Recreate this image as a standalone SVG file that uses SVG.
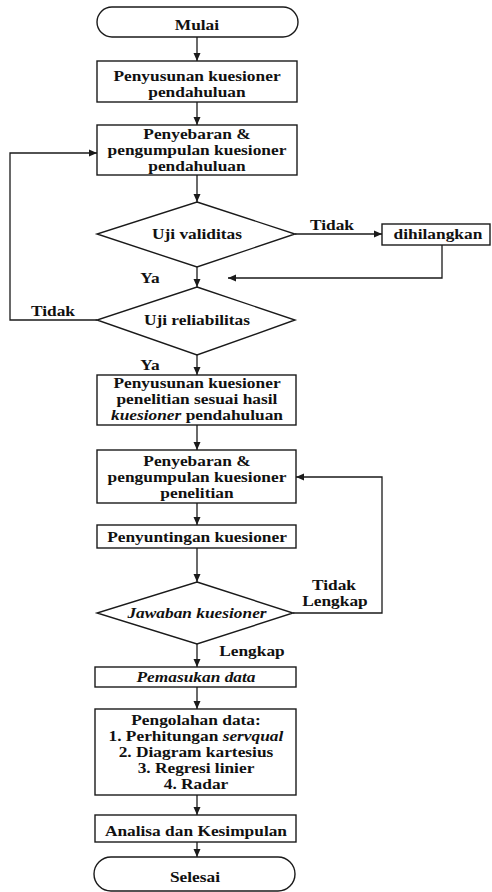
<svg xmlns="http://www.w3.org/2000/svg" width="492" height="892" viewBox="0 0 492 892">
<style>
.s{fill:#fff;stroke:#1a1a1a;stroke-width:1.4}
.c{fill:none;stroke:#1a1a1a;stroke-width:1.3}
text{font-family:"Liberation Serif","Times New Roman",serif;font-size:14px;font-weight:bold;fill:#111;text-anchor:middle;transform-box:fill-box;transform-origin:center;transform:scaleX(1.24)}
.i{font-style:italic}
</style>
<defs>
<marker id="a" markerUnits="userSpaceOnUse" markerWidth="8" markerHeight="8" refX="8" refY="4" orient="auto">
<path d="M0,0.5 L8,4 L0,7.5 z" fill="#1a1a1a"/>
</marker>
</defs>
<rect width="492" height="892" fill="#fff"/>
<g id="connectors">
<path class="c" d="M197,37 V61" marker-end="url(#a)"/>
<path class="c" d="M197,102 V125" marker-end="url(#a)"/>
<path class="c" d="M197,175 V202" marker-end="url(#a)"/>
<path class="c" d="M295,234 H382" marker-end="url(#a)"/>
<path class="c" d="M442,245 V278 H228" marker-end="url(#a)"/>
<path class="c" d="M197,267 V287" marker-end="url(#a)"/>
<path class="c" d="M97,320 H10 V153 H97" marker-end="url(#a)"/>
<path class="c" d="M197,355 V375" marker-end="url(#a)"/>
<path class="c" d="M197,425 V450" marker-end="url(#a)"/>
<path class="c" d="M197,503 V525" marker-end="url(#a)"/>
<path class="c" d="M197,548 V582" marker-end="url(#a)"/>
<path class="c" d="M293,613 H382 V477 H296" marker-end="url(#a)"/>
<path class="c" d="M197,644 V667" marker-end="url(#a)"/>
<path class="c" d="M197,687 V709" marker-end="url(#a)"/>
<path class="c" d="M197,795 V815" marker-end="url(#a)"/>
<path class="c" d="M197,842 V857" marker-end="url(#a)"/>
<text x="332" y="230">Tidak</text>
<text x="150" y="283">Ya</text>
<text x="53" y="316">Tidak</text>
<text x="150" y="370">Ya</text>
<text x="334" y="590">Tidak</text>
<text x="335" y="606">Lengkap</text>
<text x="252" y="656">Lengkap</text>
</g>
<g id="mulai">
<rect class="s" x="97" y="7" width="201" height="30" rx="15"/>
<text x="197" y="30">Mulai</text>
</g>
<g id="penyusunan1">
<rect class="s" x="97" y="61" width="200" height="41"/>
<text x="197" y="81">Penyusunan kuesioner</text>
<text x="197" y="97">pendahuluan</text>
</g>
<g id="penyebaran1">
<rect class="s" x="97" y="125" width="200" height="50"/>
<text x="197" y="139">Penyebaran &amp;</text>
<text x="197" y="155">pengumpulan kuesioner</text>
<text x="197" y="171">pendahuluan</text>
</g>
<g id="validitas">
<polygon class="s" points="197,202 295,234 197,267 97,234"/>
<text x="197" y="239">Uji validitas</text>
</g>
<g id="dihilangkan">
<rect class="s" x="382" y="224" width="108" height="21"/>
<text x="438" y="239">dihilangkan</text>
</g>
<g id="reliabilitas">
<polygon class="s" points="197,287 295,320 197,355 97,320"/>
<text x="197" y="325">Uji reliabilitas</text>
</g>
<g id="penyusunan2">
<rect class="s" x="97" y="375" width="199" height="50"/>
<text x="197" y="388">Penyusunan kuesioner</text>
<text x="197" y="404">penelitian sesuai hasil</text>
<text x="197" y="420"><tspan class="i">kuesioner</tspan> pendahuluan</text>
</g>
<g id="penyebaran2">
<rect class="s" x="97" y="450" width="199" height="53"/>
<text x="197" y="466">Penyebaran &amp;</text>
<text x="197" y="482">pengumpulan kuesioner</text>
<text x="197" y="498">penelitian</text>
</g>
<g id="penyuntingan">
<rect class="s" x="97" y="525" width="199" height="23"/>
<text x="197" y="542">Penyuntingan kuesioner</text>
</g>
<g id="jawaban">
<polygon class="s" points="197,582 293,613 197,644 97,613"/>
<text class="i" x="197" y="618">Jawaban kuesioner</text>
</g>
<g id="pemasukan">
<rect class="s" x="95" y="667" width="201" height="20"/>
<text class="i" x="196" y="682">Pemasukan data</text>
</g>
<g id="pengolahan">
<rect class="s" x="95" y="709" width="201" height="86"/>
<text x="196" y="725">Pengolahan data:</text>
<text x="196" y="741">1. Perhitungan <tspan class="i">servqual</tspan></text>
<text x="196" y="757">2. Diagram kartesius</text>
<text x="196" y="773">3. Regresi linier</text>
<text x="196" y="789">4. Radar</text>
</g>
<g id="analisa">
<rect class="s" x="95" y="815" width="201" height="27"/>
<text x="196" y="836">Analisa dan Kesimpulan</text>
</g>
<g id="selesai">
<rect class="s" x="94" y="857" width="201" height="34" rx="17"/>
<text x="195" y="882">Selesai</text>
</g>
</svg>
